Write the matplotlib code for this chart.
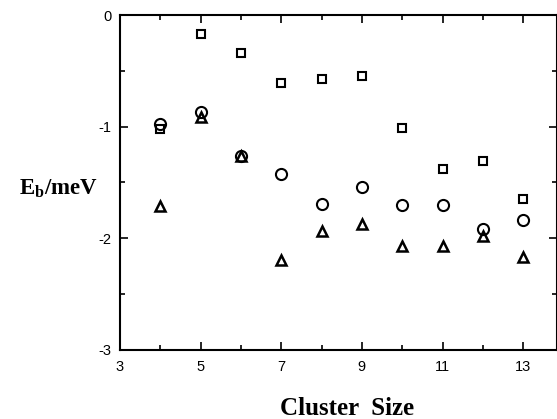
import matplotlib
matplotlib.use("Agg")
import matplotlib.pyplot as plt
from matplotlib.ticker import MultipleLocator

plt.rcParams['axes.unicode_minus'] = False
plt.rcParams['mathtext.fontset'] = 'custom'
plt.rcParams['mathtext.rm'] = 'Liberation Serif:bold'

# cluster sizes and binding energies (meV)
sizes = [4, 5, 6, 7, 8, 9, 10, 11, 12, 13]
eb_square = [-1.02, -0.17, -0.34, -0.61, -0.57, -0.55, -1.01, -1.38, -1.31, -1.65]
eb_circle = [-0.98, -0.87, -1.26, -1.42, -1.69, -1.54, -1.70, -1.70, -1.92, -1.84]
eb_triangle = [-1.71, -0.91, -1.26, -2.19, -1.93, -1.87, -2.07, -2.07, -1.98, -2.17]
xticks = [3, 5, 7, 9, 11, 13]

fig = plt.figure(figsize=(5.57, 4.19), dpi=100)
ax = fig.add_axes([0.2154, 0.1647, 0.7846, 0.7995])

ax.plot(sizes, eb_square, ls='none', marker='s', ms=5.5, mfc='white', mec='black', mew=1.5)
ax.plot(sizes, eb_circle, ls='none', marker='o', ms=8, mfc='none', mec='black', mew=1.5)
ax.plot(sizes, eb_triangle, ls='none', marker='^', ms=7.5, mfc='none', mec='black', mew=1.8)

ax.set_xlim(3, 13.84)
ax.set_ylim(-3, 0)
ax.set_xticks(xticks)
ax.set_xticklabels([str(v) for v in xticks])
ax.xaxis.set_minor_locator(MultipleLocator(1))
ax.yaxis.set_major_locator(MultipleLocator(1))
ax.yaxis.set_minor_locator(MultipleLocator(0.5))
ax.tick_params(which='both', direction='in', top=True, right=True, width=1.2)
ax.tick_params(which='major', length=6, labelsize=10.5)
ax.tick_params(axis='x', pad=7)
ax.tick_params(axis='y', pad=6)
ax.tick_params(which='minor', length=3.5)
for lab in ax.get_xticklabels() + ax.get_yticklabels():
    lab.set_family('Liberation Sans')
for s in ax.spines.values():
    s.set_linewidth(1.5)

fig.text(0.105, 0.55, r'E$_\mathrm{b}$/meV', ha='center', va='center',
         fontsize=16.5, fontweight='bold', family='Liberation Serif')
fig.text(0.623, 0.025, 'Cluster  Size', ha='center', va='center',
         fontsize=18, fontweight='bold', family='Liberation Serif')

fig.savefig('out.png', dpi=100)
